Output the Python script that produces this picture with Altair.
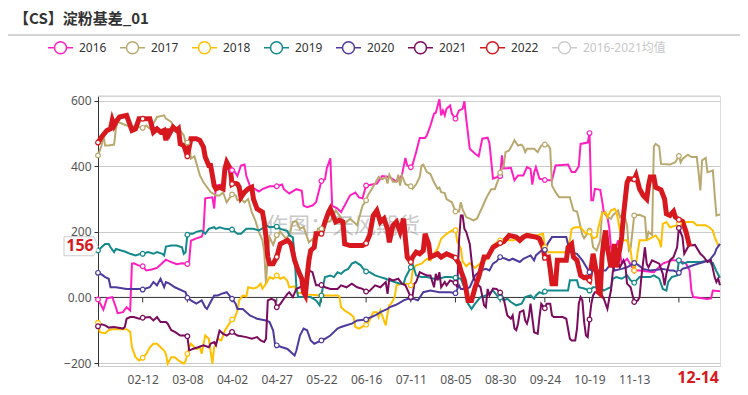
import altair as alt
import pandas as pd

START = pd.Timestamp("2020-01-18")
NAMES = ["2016", "2017", "2018", "2019", "2020", "2021", "2022", "2016-2021均值"]
COLORS = ["#ff1fc0", "#b9a96f", "#ffc000", "#13898b", "#4e3a9c", "#7b0b5c", "#d7191f", "#cccccc"]
TICK_DAYS = [25, 50, 75, 100, 125, 150, 175, 200, 225, 250, 275, 300, 325]
LABEL_DAYS = TICK_DAYS[:-1]
Y_TICKS = [-200, 0, 200, 400, 600]
Y_DOMAIN = [-209, 614]
X_DOMAIN = [0, 348]

D16 = [0,3,5,8,10,11,14,16,18,19,20,23,25,27,30,33,38,40,44,47,50,51,52,55,58,59,60,64,65,66,
       70,72,75,76,78,80,82,83,85,90,92,96,100,103,104,107,111,114,115,117,120,122,125,127,128,130,131,134,136,138,141,
       144,146,148,150,152,156,159,163,167,170,172,173,175,176,178,180,183,184,186,188,189,191,192,193,194,195,197,198,200,202,
       204,205,206,208,211,213,215,218,219,221,225,226,227,231,233,235,238,240,242,243,244,245,247,250,254,256,263,265,267,269,
       270,274,275,276,277,278,281,282,283,285,286,287,288,291,293,296,300,303,311,316,321,325,329,331,332,333,341,343,344,348]
V16 = [-6,-37,-3,1,-30,-48,-45,-30,-40,103,104,97,95,82,85,90,115,110,101,104,102,110,173,180,185,200,302,305,271,341,
       345,393,388,387,370,402,405,370,340,323,330,339,339,344,330,317,330,325,280,275,280,290,355,360,393,424,280,271,260,280,311,
       320,305,302,341,343,347,370,367,353,372,425,402,397,405,443,486,486,494,524,560,563,604,555,570,555,575,585,560,545,570,
       575,598,545,453,438,430,484,487,470,362,370,433,393,395,357,372,372,397,392,344,380,397,362,358,357,402,405,382,382,400,
       468,472,501,296,296,331,328,296,260,245,214,153,123,174,103,118,82,82,77,103,113,113,103,82,21,1,-5,-3,21,19]

D17 = [0,2,3,4,6,9,10,11,16,21,25,27,29,31,33,37,38,41,43,46,48,49,50,51,52,54,57,59,63,66,68,70,72,75,77,78,80,82,84,86,
       88,90,92,93,94,95,96,98,100,102,105,107,109,111,113,115,118,120,121,123,125,127,130,133,135,138,141,145,147,148,
       150,151,155,157,159,161,162,163,165,167,168,169,170,172,175,176,178,180,181,182,184,186,188,190,191,192,194,195,198,200,
       202,203,204,206,208,210,212,215,217,218,220,222,224,225,227,228,230,232,233,235,237,238,239,240,244,245,246,248,250,252,
       253,254,256,258,264,266,268,269,270,271,272,275,276,277,279,281,282,284,285,287,288,291,292,294,295,296,297,298,299,300,
       303,306,307,308,310,311,312,314,315,320,323,325,326,327,330,332,335,336,337,338,340,341,343,344,345,346,348]
V17 = [433,463,494,463,463,466,514,535,524,520,517,524,514,530,550,555,545,535,514,510,494,473,472,470,423,430,372,351,321,311,
       311,320,290,314,311,296,300,290,300,260,235,200,175,140,42,134,184,160,190,200,180,190,230,232,209,215,168,178,159,209,
       209,230,232,265,250,225,240,220,260,280,296,311,347,367,360,367,347,374,353,353,374,341,372,345,339,331,345,367,402,405,
       382,376,351,331,335,321,318,300,290,262,262,290,268,245,240,235,240,275,300,311,330,330,360,380,402,443,448,468,479,463,
       466,458,443,453,453,448,443,463,466,463,453,341,321,305,305,265,262,240,214,190,180,204,190,153,143,174,260,255,245,240,
       250,265,245,255,241,220,143,150,200,250,252,245,174,200,190,460,468,460,407,405,412,431,412,422,435,428,428,382,326,418,
       425,382,385,387,316,250,253]

D18 = [0,1,4,6,8,16,18,19,21,23,25,27,29,31,33,35,37,38,39,41,43,45,48,49,50,51,52,55,57,58,60,62,64,65,66,67,69,71,75,76,
       78,79,81,83,84,87,89,91,92,94,96,98,100,102,104,106,107,110,111,113,115,117,125,134,135,136,138,141,143,144,146,150,152,154,
       156,157,158,160,161,162,163,164,166,167,170,173,175,176,178,181,184,186,188,190,192,195,198,200,201,203,204,206,208,211,
       213,217,219,221,225,232,236,238,240,245,249,250,252,262,264,265,267,270,273,275,277,279,280,281,282,284,285,287,289,290,
       291,292,294,296,298,299,300,301,302,303,307,309,312,314,315,316,318,320,324,325,326,327,329,333,335,340,342,344,345,347,348]
V18 = [-77,-106,-109,-100,-97,-97,-105,-152,-182,-192,-184,-172,-152,-141,-141,-152,-162,-172,-202,-182,-182,-192,-202,-195,-172,-152,-141,-157,-152,-172,
       -116,-126,-202,-152,-141,-126,-131,-101,-67,-70,-40,-9,6,3,31,27,31,42,27,42,62,57,67,57,62,50,31,34,16,13,16,9,6,6,3,
       -30,-40,-50,-60,-90,-95,-83,-70,-45,-45,-60,-40,-70,-85,-50,-24,-19,1,37,42,42,37,82,98,103,118,113,133,148,179,194,204,205,170,150,
       110,95,105,90,100,115,133,159,174,174,179,189,194,189,194,153,138,138,174,209,214,214,194,200,180,184,214,235,255,260,245,265,270,262,
       235,204,174,174,143,103,82,103,140,174,174,180,189,174,153,224,230,214,220,225,230,220,230,230,220,220,214,204,184,159,159]

D19 = [0,2,4,6,7,9,10,13,15,18,21,24,25,28,31,33,36,37,38,41,44,47,48,49,50,51,53,55,58,60,62,65,66,68,71,75,78,80,83,87,
       90,93,94,96,100,102,106,107,109,110,111,112,119,122,124,125,126,127,130,132,134,136,138,140,142,144,147,148,150,152,155,158,161,163,166,
       169,171,172,175,176,178,181,184,188,191,194,197,200,203,206,207,209,211,214,217,221,224,225,227,229,231,234,237,239,242,244,245,247,249,250,
       252,259,263,264,268,269,272,275,277,281,283,285,287,288,290,293,296,298,300,303,309,311,314,316,318,319,321,324,325,327,330,337,342,343,344,346,348]
V19 = [143,153,163,163,153,138,148,143,140,133,128,133,133,138,133,138,133,128,155,158,158,153,133,138,191,194,194,200,204,194,
       209,214,209,214,209,207,194,194,209,209,204,214,220,214,216,209,202,189,184,128,31,1,1,-9,-24,6,37,62,67,62,77,72,82,87,103,108,98,90,79,77,67,62,57,52,47,
       42,42,60,92,103,67,62,62,57,57,62,62,60,57,16,-19,-35,-19,1,6,21,1,0,-9,-4,-14,-24,-19,1,6,-4,6,16,11,18,
       21,21,21,52,52,31,27,21,31,31,21,27,31,57,62,57,67,52,45,62,62,67,57,26,21,47,62,67,113,103,108,108,113,103,105,80,60]

D20 = [0,2,4,6,7,9,10,16,24,25,29,31,33,35,37,38,40,43,49,50,52,55,58,60,61,63,65,67,69,72,75,77,78,81,85,89,94,96,98,99,100,
       103,106,108,110,111,113,115,117,119,121,125,127,130,134,136,139,142,145,150,152,155,158,162,163,166,168,171,175,179,182,186,191,197,200,
       202,203,206,208,211,214,217,219,221,223,225,228,230,232,236,238,240,242,244,245,247,249,250,252,254,262,264,268,271,275,277,281,284,287,289,
       293,296,300,302,305,309,316,320,322,325,327,330,333,336,339,342,345,346,348]
V20 = [75,70,62,57,31,31,31,26,26,24,31,47,37,57,31,47,42,31,16,-1,-9,-19,-9,-30,-35,-14,6,6,11,16,-4,-19,-35,-35,-55,-65,-70,-75,-101,-141,-146,
       -152,-157,-167,-177,-162,-116,-95,-100,-131,-141,-131,-126,-116,-95,-90,-85,-80,-70,-67,-62,-55,-45,-35,-30,-24,-19,-9,-1,-9,16,21,16,16,13,
       37,26,26,31,67,82,87,82,103,110,123,118,113,118,108,118,123,128,113,128,138,148,145,168,184,184,138,133,113,77,82,82,82,103,82,
       87,92,105,100,87,82,87,82,82,75,87,92,98,103,108,113,133,148,163]

D21 = [0,2,4,6,9,14,15,16,18,20,23,25,29,31,33,35,38,39,41,43,46,48,50,51,53,56,59,62,63,65,66,68,70,72,75,78,83,86,89,91,93,94,
       95,97,99,100,102,104,106,107,109,111,113,115,117,118,120,122,125,127,130,134,136,139,142,145,148,150,152,155,158,161,162,163,165,168,170,172,
       175,176,177,178,180,182,184,186,188,189,190,191,192,194,195,197,200,201,202,203,204,205,206,208,209,210,212,214,216,217,218,219,221,223,225,
       227,229,231,232,233,234,235,236,238,239,240,241,242,244,246,247,248,250,251,253,254,255,260,262,264,265,267,268,269,270,271,272,273,274,275,
       276,277,278,281,283,285,286,287,288,290,291,292,294,295,296,298,300,302,303,304,306,307,308,310,314,316,317,318,320,322,324,325,327,328,330,
       331,334,337,339,341,343,345,346,347,348]
V21 = [-88,-82,-85,-92,-90,-95,-90,-65,-60,-60,-65,-62,-60,-70,-60,-75,-75,-80,-100,-105,-116,-116,-118,-162,-157,-152,-146,-152,-141,-136,-146,-101,-111,-116,-105,-116,-121,-126,-121,-131,-136,-126,
       -9,-4,-9,-30,-20,-4,11,16,1,26,31,37,40,82,77,37,38,31,26,26,37,31,42,31,26,18,20,37,31,47,11,57,52,57,42,37,
       1,6,42,47,77,72,67,67,31,72,52,77,31,47,37,52,45,31,174,250,250,209,200,163,113,62,42,31,-24,-30,26,6,27,26,15,
       -4,-55,-65,-55,-95,-100,-80,-45,-40,-70,-80,-60,-19,-106,-111,-60,-19,-33,-19,-19,-55,-60,-60,-65,-126,-131,-131,-95,-19,1,-9,-75,-116,-121,-67,
       -19,6,16,16,-4,-35,-4,21,77,123,108,92,113,100,42,31,-14,-9,1,62,153,103,92,113,103,72,37,72,113,123,153,212,184,133,153,
       158,160,133,123,108,113,62,47,57,37]

D22 = [0,2,5,7,8,9,10,12,16,17,19,21,23,25,29,31,33,35,37,38,39,40,42,44,45,46,48,49,50,51,52,55,57,59,60,62,63,64,65,66,68,70,
       71,72,74,75,76,78,79,80,82,84,86,87,89,92,93,94,95,96,98,100,102,106,108,110,112,114,115,116,117,118,119,121,122,125,127,129,130,133,
       135,137,138,141,144,148,150,152,154,156,158,160,162,163,165,167,169,171,172,173,175,176,178,180,182,183,185,186,188,190,192,195,200,202,203,205,
       207,209,211,213,216,218,221,225,227,230,234,236,238,240,245,247,249,250,252,253,254,256,257,262,263,265,266,268,270,272,273,275,276,277,279,
       280,281,282,283,284,285,287,288,289,290,292,293,294,295,296,297,300,301,303,305,307,308,309,311,312,315,317,318,320,322,323,325,327,329,331]
V22 = [472,489,509,514,540,524,535,550,555,540,509,514,545,545,545,504,514,504,509,479,514,499,519,509,514,468,463,448,430,458,484,484,479,458,428,402,402,372,341,331,336,331,
       392,412,392,346,350,346,336,305,321,331,336,300,270,260,230,184,123,103,103,123,163,174,163,113,82,57,16,6,62,113,143,153,194,194,230,260,270,230,
       235,230,163,158,158,158,165,190,250,265,230,240,209,168,219,230,200,240,179,123,108,123,138,133,143,194,163,123,128,133,123,133,121,103,82,52,
       -9,-9,31,62,123,123,153,166,170,189,184,174,184,189,184,179,153,121,123,87,42,42,113,113,153,163,123,113,67,60,62,52,92,133,72,
       16,11,123,174,204,153,92,120,163,92,150,184,250,300,350,362,360,372,331,311,300,341,367,367,336,328,300,255,250,262,245,237,232,200,156]

series = list(zip(NAMES[:7], [D16, D17, D18, D19, D20, D21, D22], [V16, V17, V18, V19, V20, V21, V22]))
rows = []
for name, days, vals in series:
    for i, (d, v) in enumerate(zip(days, vals)):
        rows.append({"series": name, "day": d, "value": v, "idx": i})
df = pd.DataFrame(rows)

last_day = D22[-1]
last_val = V22[-1]
last_label = (START + pd.Timedelta(days=last_day)).strftime("%m-%d")

W, H = 622, 270
FONT = "Noto Sans, Noto Sans CJK SC, sans-serif"
LEG_PATH = "M-1,0L-0.48,0M0.48,0L1,0M-0.48,0A0.48,0.48,0,1,1,0.48,0A0.48,0.48,0,1,1,-0.48,0Z"
TAG_PATH = "M-1,-0.56L0.76,-0.56L1,0L0.76,0.56L-1,0.56Z"

x_enc = alt.X("day:Q", scale=alt.Scale(domain=X_DOMAIN, nice=False, zero=False),
              axis=alt.Axis(values=LABEL_DAYS,
                            labelExpr="timeFormat(datetime(2020, 0, 18 + datum.value), '%m-%d')",
                            title=None, grid=False, ticks=False, domainColor="#cccccc",
                            labelColor="#555555", labelFontSize=12, labelPadding=8, labelFont=FONT))
y_enc = alt.Y("value:Q", scale=alt.Scale(domain=Y_DOMAIN, nice=False, zero=False),
              axis=alt.Axis(values=Y_TICKS, labelExpr="datum.value === 0 ? '0.00' : datum.label",
                            title=None, grid=True, gridColor="#cccccc", domainColor="#333333",
                            tickColor="#333333", tickSize=4, labelColor="#555555", labelFontSize=12,
                            labelPadding=3, labelFont=FONT))
legend = alt.Legend(orient="none", legendX=-51, legendY=-62, direction="horizontal", columns=8,
                    title=None, symbolType=LEG_PATH, symbolSize=625, symbolStrokeWidth=1.5,
                    symbolFillColor="white", labelFont=FONT, labelFontSize=12, labelOffset=5,
                    columnPadding=10, padding=0, labelLimit=300,
                    labelColor=alt.ExprRef("datum.label === '2016-2021均值' ? '#c8c8c8' : '#333333'"))
color_enc = alt.Color("series:N", scale=alt.Scale(domain=NAMES, range=COLORS), legend=legend)

base = alt.Chart(df)

top_rule = alt.Chart(pd.DataFrame({"k": [0]})).mark_rule(color="#cccccc").encode(y=alt.value(0))
zero_rule = alt.Chart(pd.DataFrame({"k": [0]})).mark_rule(color="#333333").encode(y=alt.datum(0))
ticks = alt.Chart(pd.DataFrame({"day": TICK_DAYS})).mark_rule(color="#333333", y2Offset=5).encode(
    x=x_enc, y=alt.datum(0), y2=alt.datum(0))

watermark = alt.Chart(pd.DataFrame({"t": ["作图：天风期货"]})).mark_text(
    font="Noto Sans CJK SC", fontSize=22, color="#888888", opacity=0.45).encode(
    x=alt.value(245), y=alt.value(130), text="t:N")

lines = base.transform_filter("datum.series !== '2022'").mark_line(strokeWidth=2).encode(
    x=x_enc, y=y_enc, color=color_enc, order="idx:Q")
line22 = base.transform_filter("datum.series === '2022'").mark_line(strokeWidth=5).encode(
    x=x_enc, y=y_enc, color=color_enc, order="idx:Q")
markers = base.transform_filter("datum.day % 25 === 0").mark_point(
    shape="circle", size=22, strokeWidth=1.2, opacity=1, filled=False).encode(
    x=x_enc, y=y_enc, fill=alt.value("white"),
    stroke=alt.Stroke("series:N", scale=alt.Scale(domain=NAMES, range=COLORS), legend=None))

cur = pd.DataFrame({"value": [last_val], "lab": [str(last_val)]})
tag = alt.Chart(cur).mark_point(shape=TAG_PATH, size=1156, filled=True, fill="white",
                                stroke="#cccccc", strokeWidth=1, opacity=1).encode(
    x=alt.value(-17), y=y_enc)
tag_text = alt.Chart(cur).mark_text(font=FONT, fontSize=16, fontWeight="bold", color="#d7191f").encode(
    x=alt.value(-18), y=y_enc, text="lab:N")

date_lab = alt.Chart(pd.DataFrame({"t": [last_label]})).mark_text(
    font=FONT, fontSize=16, fontWeight="bold", color="#d7191f", align="right", baseline="middle").encode(
    x=alt.value(W - 1), y=alt.value(H + 12), text="t:N")

title = alt.Chart(pd.DataFrame({"t": ["【CS】淀粉基差_01"]})).mark_text(
    font="Noto Sans CJK SC", fontSize=15, fontWeight="bold", color="#333333", align="left",
    baseline="middle").encode(x=alt.value(-84), y=alt.value(-77), text="t:N")
sep = alt.Chart(pd.DataFrame({"k": [0]})).mark_rule(color="#aaaaaa").encode(
    x=alt.value(-95), x2=alt.value(642), y=alt.value(-61))

chart = alt.layer(top_rule, watermark, zero_rule, ticks, lines, line22, markers,
                  tag, tag_text, date_lab, title, sep).properties(
    width=W, height=H,
    padding={"left": 90, "top": 88, "right": 20, "bottom": 21},
    autosize=alt.AutoSizeParams(type="none"),
).configure_view(stroke=None).configure(font=FONT)

chart.save("out.html", embed_options={"renderer": "svg", "actions": False})
